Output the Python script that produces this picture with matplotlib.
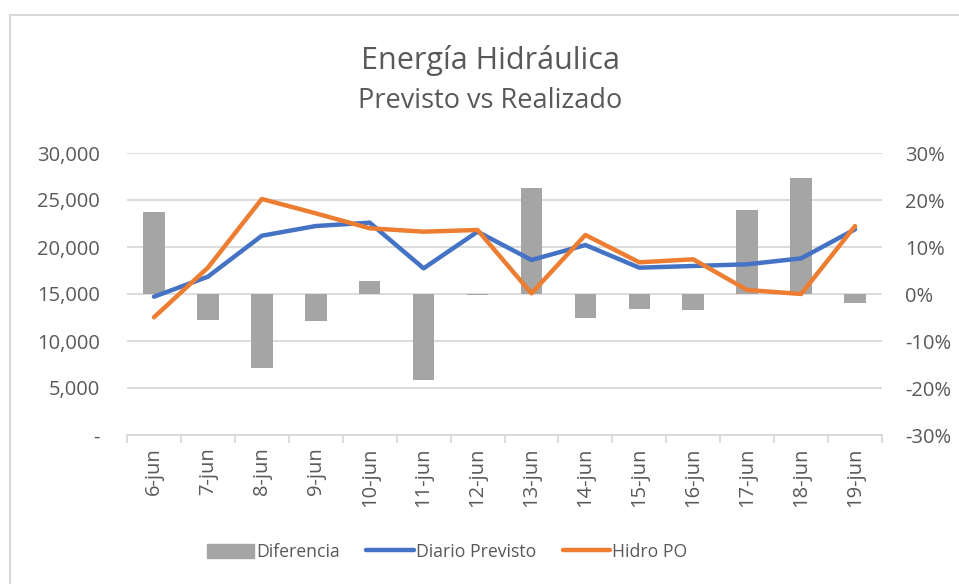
import matplotlib
matplotlib.use("Agg")
import matplotlib.pyplot as plt
from matplotlib.patches import Patch, Rectangle
from matplotlib.lines import Line2D
from matplotlib.ticker import FuncFormatter, FixedLocator
import numpy as np

categories = ["6-jun", "7-jun", "8-jun", "9-jun", "10-jun", "11-jun", "12-jun",
              "13-jun", "14-jun", "15-jun", "16-jun", "17-jun", "18-jun", "19-jun"]
diario_previsto = [14710, 16840, 21200, 22230, 22590, 17730, 21630,
                   18620, 20210, 17800, 17980, 18160, 18790, 21880]
hidro_po = [12520, 17800, 25110, 23580, 21990, 21630, 21810,
            15070, 21280, 18370, 18690, 15430, 15000, 22230]
diferencia = [17.4, -5.5, -15.8, -5.7, 2.8, -18.3, -0.3,
              22.6, -5.2, -3.2, -3.5, 17.9, 24.7, -2.0]

FONT = ["Open Sans", "DejaVu Sans"]
TXT = "#595959"
GRID = "#D9D9D9"
plt.rcParams["font.family"] = FONT

fig = plt.figure(figsize=(9.59, 5.84), dpi=100)
ax = fig.add_axes([127/959, 1-435/584, (882-127)/959, (435-153)/584])
ax2 = ax.twinx()
ax.set_zorder(ax2.get_zorder() + 1)
ax.patch.set_visible(False)

x = np.arange(len(categories))

# bars on secondary axis
ax2.bar(x, diferencia, width=0.4, color="#A5A5A5", zorder=2)
ax2.set_ylim(-30, 30)
ax2.set_yticks(np.arange(-30, 31, 10))
ax2.yaxis.set_major_formatter(FuncFormatter(lambda v, p: f"{int(round(v))}%"))
ax2.grid(axis="y", color=GRID, lw=1.3, zorder=0)
ax2.set_axisbelow(True)

# lines on primary axis
ax.plot(x, diario_previsto, color="#4472C4", lw=3.2, solid_capstyle="round", solid_joinstyle="round")
ax.plot(x, hidro_po, color="#ED7D31", lw=3.2, solid_capstyle="round", solid_joinstyle="round")
ax.set_ylim(0, 30000)
ax.set_yticks(np.arange(0, 30001, 5000))
ax.yaxis.set_major_formatter(FuncFormatter(lambda v, p: "-" if v == 0 else f"{int(v):,}"))
ax.set_xlim(-0.5, len(categories) - 0.5)
ax.set_xticks(x)
ax.set_xticklabels(categories, rotation=90)
ax.xaxis.set_minor_locator(FixedLocator(np.arange(-0.5, len(categories), 1.0)))

for a in (ax, ax2):
    for s in a.spines.values():
        s.set_visible(False)
    a.tick_params(axis="y", length=0, labelsize=14.5, labelcolor=TXT)
ax.tick_params(axis="y", pad=19.5)
ax2.tick_params(axis="y", pad=16.5)
ax.tick_params(axis="x", which="major", length=0, labelsize=14.5, labelcolor=TXT, pad=9)
ax.tick_params(axis="x", which="minor", length=6, color=GRID, width=1.3)
ax.spines["bottom"].set_visible(True)
ax.spines["bottom"].set_color(GRID)
ax.spines["bottom"].set_linewidth(1.3)
ax2.tick_params(axis="x", length=0, labelbottom=False)

fig.text(490/959, 1-60/584, "Energía Hidráulica", ha="center", va="center", fontsize=22, color=TXT)
fig.text(490/959, 1-101/584, "Previsto vs Realizado", ha="center", va="center", fontsize=19.5, color=TXT)

handles = [Patch(color="#A5A5A5"),
           Line2D([0], [0], color="#4472C4", lw=3.2, solid_capstyle="round"),
           Line2D([0], [0], color="#ED7D31", lw=3.2, solid_capstyle="round")]
fig.legend(handles, ["Diferencia", "Diario Previsto", "Hidro PO"], loc="center",
           bbox_to_anchor=(447/959, 1-552/584), ncol=3, frameon=False,
           fontsize=12.7, labelcolor=TXT, handlelength=2.7, handletextpad=0.1,
           columnspacing=1.5, handleheight=0.9)

fig.patches.append(Rectangle((10/959, -0.2), 1.2, 1-15/584+0.2, transform=fig.transFigure,
                             fill=False, edgecolor=GRID, lw=1.5))

fig.savefig("out.png", dpi=100)
